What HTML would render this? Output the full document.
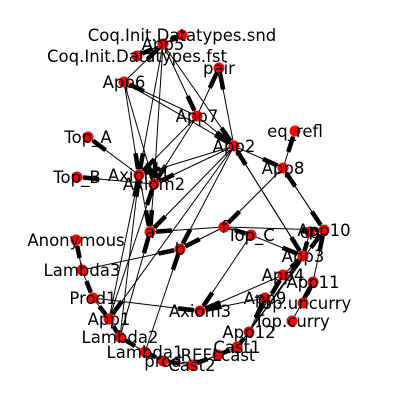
<!DOCTYPE html>
<html><head><meta charset="utf-8"><style>
html,body{margin:0;padding:0;background:#fff;}
svg{display:block;}
text{font-family:"DejaVu Sans","Liberation Sans",sans-serif;font-size:16.5px;fill:#000;}
</style></head><body>
<svg id="chart" width="400" height="400" viewBox="0 0 400 400" xmlns="http://www.w3.org/2000/svg">
<g id="edges"></g>
<g id="nodes"></g>
<g id="labels"></g>
</svg>
<script>
const nodeNames = ["Coq.Init.Datatypes.snd","App5","Coq.Init.Datatypes.fst","pair","App6","App7","Top_A","App2","eq_refl","App8","Top_B","Axiom1","Axiom2","a","b","Anonymous","Lambda3","Prod1","App1","Lambda2","Lambda1","prod","Cast2","Axiom3","f","Top_C","eq","App10","App3","App4","App11","App9","Top.uncurry","Top.curry","App12","Cast1","REFLcast"];
const nodeX = [182,163,137,219,124,197,88,234,295,283,77,139,154,150,180,76,82,93,109,120,145,163,192,200,224,251,310,324,303,283,313,265,303,292,249,237,218];
const nodeY = [35,44,56,68,82,116,137,146,131,168,177,175,184,232,249,240,270,298,319,337,352,361,365,311,227,235,232,230,256,275,282,298,303,321,332,347,355];
const edgeSrc = ["App5","App5","App5","App5","App5","App5","App6","App6","App6","App6","App7","App7","App7","App7","App7","App2","App2","App2","App2","App2","App2","App2","App2","Axiom1","Axiom2","Axiom1","Axiom2","App8","App8","App8","f","f","f","f","Top_C","Top_C","Lambda3","Lambda3","Lambda3","Prod1","Prod1","App1","App1","App1","Lambda2","Lambda2","Lambda1","Lambda1","prod","Cast2","REFLcast","Cast1","App12","App12","App12","App12","App12","App9","App4","App4","App11","Top.uncurry","Top.curry","App3","App10","eq"];
const edgeDst = ["Coq.Init.Datatypes.snd","Coq.Init.Datatypes.fst","Axiom1","Axiom2","App2","App7","App5","Axiom1","Axiom2","App2","pair","App2","Axiom1","Axiom2","App6","pair","Axiom1","Axiom2","App8","App3","a","b","App1","Top_A","Top_B","a","a","eq_refl","f","App10","a","b","Top_C","App10","Axiom3","App3","Anonymous","Prod1","b","App1","Axiom3","Axiom1","Axiom2","Lambda2","Axiom1","a","Lambda2","b","Lambda1","prod","Cast2","REFLcast","Cast1","App10","App3","App4","App9","Axiom3","Axiom3","App3","App10","App11","App11","App2","App8","App3"];
const ARROW = 16;
const svgNS = "http://www.w3.org/2000/svg";
const eG = document.getElementById('edges'), nG = document.getElementById('nodes'), lG = document.getElementById('labels');
function px(n){return nodeX[nodeNames.indexOf(n)];}
function py(n){return nodeY[nodeNames.indexOf(n)];}
for (let i=0;i<edgeSrc.length;i++){
  const x1=px(edgeSrc[i]),y1=py(edgeSrc[i]),x2=px(edgeDst[i]),y2=py(edgeDst[i]);
  const l=document.createElementNS(svgNS,'line');
  l.setAttribute('x1',x1);l.setAttribute('y1',y1);l.setAttribute('x2',x2);l.setAttribute('y2',y2);
  l.setAttribute('stroke','#000');l.setAttribute('stroke-width','1');
  
  
  eG.appendChild(l);
  const dx=x2-x1,dy=y2-y1,len=Math.hypot(dx,dy)||1,ux=dx/len,uy=dy/len;
  const s=Math.min(6,len*0.2), e=Math.min(6+ARROW,len*0.6);
  const a=document.createElementNS(svgNS,'line');
  a.setAttribute('x1',x2-ux*s);a.setAttribute('y1',y2-uy*s);
  a.setAttribute('x2',x2-ux*e);a.setAttribute('y2',y2-uy*e);
  a.setAttribute('stroke','#000');a.setAttribute('stroke-width','4.5');
  
  
  eG.appendChild(a);
}
for (let i=0;i<nodeNames.length;i++){
  const c=document.createElementNS(svgNS,'circle');
  c.setAttribute('cx',nodeX[i]);c.setAttribute('cy',nodeY[i]);c.setAttribute('r','5.5');
  c.setAttribute('fill','#ff0000');
  
  
  nG.appendChild(c);
  const t=document.createElementNS(svgNS,'text');
  t.setAttribute('x',nodeX[i]);t.setAttribute('y',nodeY[i]+6);
  t.setAttribute('text-anchor','middle');
  t.textContent=nodeNames[i];
  
  
  lG.appendChild(t);
}
</script>
</body></html>
